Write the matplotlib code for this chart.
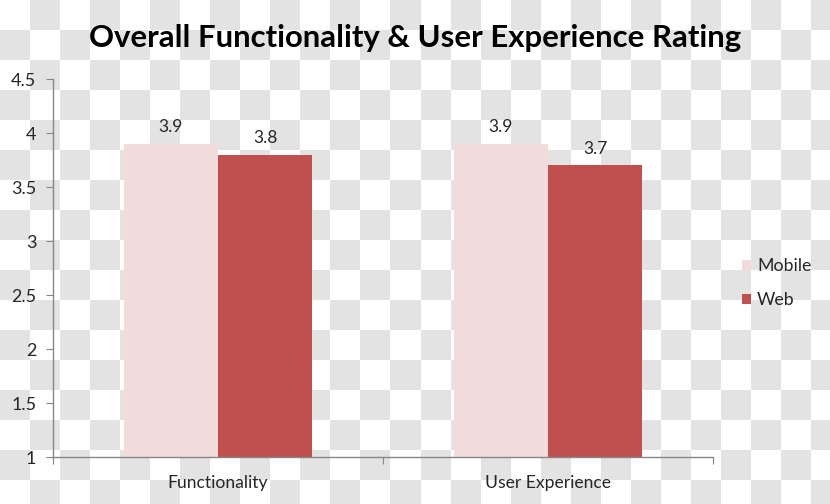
import numpy as np
import matplotlib
matplotlib.use('Agg')
import matplotlib.pyplot as plt

# 数据
categories = ['Functionality', 'User Experience']
series_names = ['Mobile', 'Web']
mobile = [3.9, 3.9]
web = [3.8, 3.7]
colors = ['#f2dcdb', '#c0504d']

plt.rcParams['font.family'] = ['Lato', 'DejaVu Sans']

W, H = 830, 504
fig = plt.figure(figsize=(W / 100, H / 100), dpi=100)

# 背景棋盘格
bg = fig.add_axes([0, 0, 1, 1], zorder=-10)
yy, xx = np.mgrid[0:H, 0:W]
checker = ((yy // 30 + xx // 30) % 2).astype(float)
bg.imshow(checker, cmap=matplotlib.colors.ListedColormap(['#ffffff', '#e3e3e3']),
          extent=(0, W, H, 0), interpolation='nearest', aspect='auto')
bg.set_axis_off()

ax = fig.add_axes([53 / W, 1 - 457 / H, 660 / W, 378 / H])
ax.patch.set_alpha(0)

x = np.arange(len(categories))
bw = 0.285
b1 = ax.bar(x - bw / 2, mobile, bw, bottom=0, color=colors[0], label=series_names[0])
b2 = ax.bar(x + bw / 2, web, bw, bottom=0, color=colors[1], label=series_names[1])
for bars, vals in [(b1, mobile), (b2, web)]:
    for r, v in zip(bars, vals):
        ax.text(r.get_x() + r.get_width() / 2, v + 0.08, f'{v}', ha='center', va='bottom',
                fontsize=12.5, color='#262626')

ax.set_xlim(-0.5, 1.5)
ax.set_ylim(1, 4.5)
ax.set_yticks([1, 1.5, 2, 2.5, 3, 3.5, 4, 4.5])
ax.set_yticklabels(['1', '1.5', '2', '2.5', '3', '3.5', '4', '4.5'])
ax.set_xticks([-0.5, 0.5, 1.5])
ax.set_xticklabels([])
ax.set_xticks(x, minor=True)
ax.set_xticklabels(categories, minor=True)
ax.tick_params(axis='x', which='minor', length=0, pad=13, labelsize=12.6, labelcolor='#262626')
ax.tick_params(axis='x', which='major', length=5, color='#868686')
ax.tick_params(axis='y', length=5, color='#868686', labelsize=13, labelcolor='#262626', pad=7)
for s in ['top', 'right']:
    ax.spines[s].set_visible(False)
for s in ['left', 'bottom']:
    ax.spines[s].set_color('#868686')
    ax.spines[s].set_linewidth(1)

fig.text(415 / W, 1 - 38 / H, 'Overall Functionality & User Experience Rating',
         ha='center', va='center', fontsize=22.4, fontweight='bold', color='black')

leg = fig.legend(handles=[b1, b2], labels=series_names, loc='center left',
                 bbox_to_anchor=(726 / W, 1 - 283 / H), frameon=False, fontsize=12.8,
                 handlelength=0.5, handleheight=0.5, handletextpad=0.35, labelspacing=1.0)
for t in leg.get_texts():
    t.set_color('#262626')

plt.savefig('out.png', dpi=100)
plt.close()
